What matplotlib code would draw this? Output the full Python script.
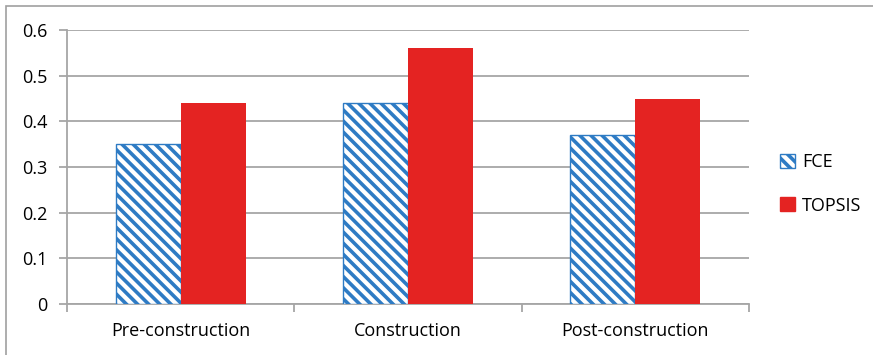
import matplotlib.pyplot as plt
import matplotlib.patches as patches
import numpy as np

stages = ['Pre-construction', 'Construction', 'Post-construction']
fce = [0.35, 0.44, 0.37]
topsis = [0.44, 0.56, 0.45]
y_ticks = [0, 0.1, 0.2, 0.3, 0.4, 0.5, 0.6]
y_labels = ['0', '0.1', '0.2', '0.3', '0.4', '0.5', '0.6']

blue = '#2E7BC4'
red = '#E42322'
grid_gray = '#A6A6A6'
stripes = '\\' * 3

plt.rcParams['font.family'] = ['Open Sans', 'DejaVu Sans']
plt.rcParams['hatch.linewidth'] = 2.6
plt.rcParams['hatch.color'] = blue

fig = plt.figure(figsize=(8.73, 3.55), dpi=100)
ax = fig.add_axes([67 / 873, 1 - 304 / 355, (749 - 67) / 873, (304 - 30) / 355])

# outer chart frame
fig.patches.append(patches.Rectangle((6 / 873, -0.1), 1.1, 1 - 6 / 355 + 0.1,
                                     transform=fig.transFigure, fill=False,
                                     edgecolor='#A0A0A0', lw=1.2))

x = np.arange(len(stages))
w = 0.286
ax.bar(x - w / 2, fce, w, facecolor='white', edgecolor=blue, hatch=stripes,
       lw=1.0, label='FCE', zorder=3)
ax.bar(x + w / 2, topsis, w, color=red, label='TOPSIS', zorder=3)

ax.set_xlim(-0.5, 2.5)
ax.set_ylim(0, 0.6)
ax.set_yticks(y_ticks)
ax.set_yticklabels(y_labels, fontsize=13)
ax.yaxis.grid(True, color=grid_gray, lw=1.3, zorder=0)
ax.set_axisbelow(True)

ax.set_xticks([-0.5, 0.5, 1.5, 2.5])
ax.set_xticklabels([])
ax.set_xticks(x, minor=True)
ax.set_xticklabels(stages, minor=True, fontsize=13)
ax.tick_params(axis='x', which='minor', length=0, pad=13)
ax.tick_params(axis='x', which='major', length=6, color=grid_gray, width=1.3)
ax.tick_params(axis='y', length=6, color=grid_gray, width=1.3, pad=8)

for s in ['top', 'right']:
    ax.spines[s].set_visible(False)
for s in ['left', 'bottom']:
    ax.spines[s].set_color(grid_gray)
    ax.spines[s].set_linewidth(1.3)

handles = [patches.Patch(facecolor='white', edgecolor=blue, hatch=stripes, lw=1.0),
           patches.Patch(color=red)]
fig.legend(handles, ['FCE', 'TOPSIS'], loc='center left',
           bbox_to_anchor=(764 / 873, 1 - 184 / 355), frameon=False,
           fontsize=13, handlelength=0.8, handleheight=0.8,
           handletextpad=0.4, labelspacing=1.4)

fig.savefig('out.png', dpi=100, facecolor='white')
